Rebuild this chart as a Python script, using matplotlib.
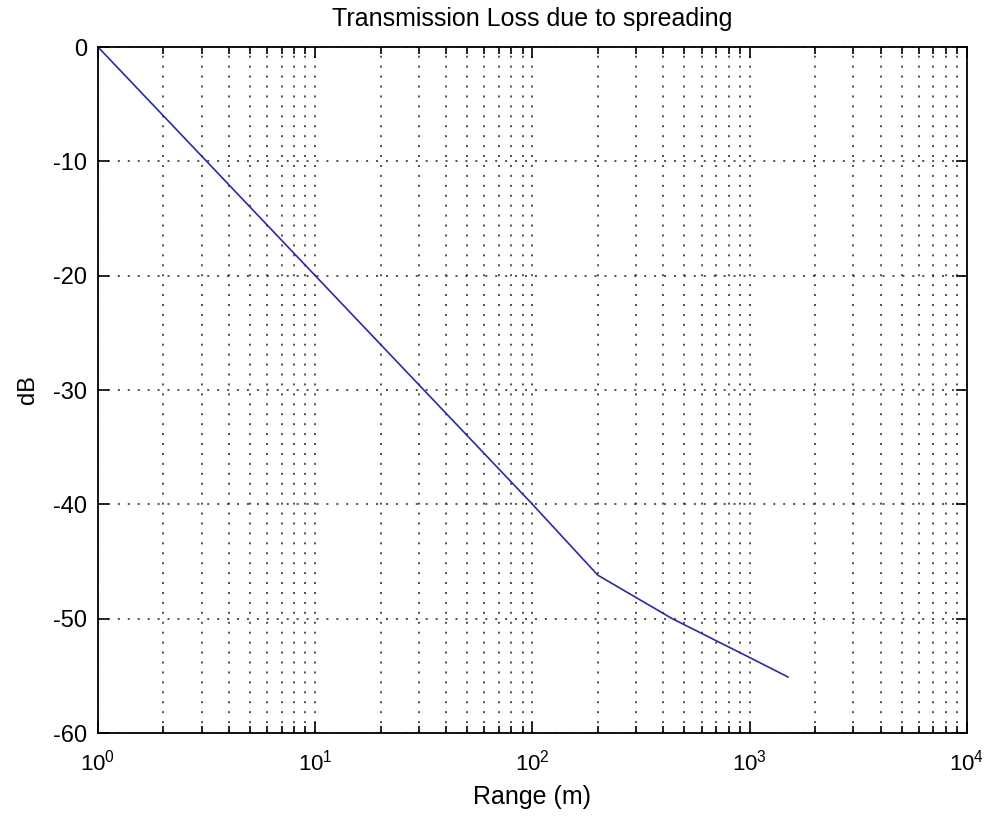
#!/usr/bin/env python3
"""Transmission loss due to spreading (MATLAB-style log plot)."""

import matplotlib
matplotlib.use('Agg')
import matplotlib.pyplot as plt
from matplotlib.ticker import LogLocator, NullFormatter

# Values
range_m = [1, 10, 100, 200, 440, 1000, 1500]
loss_db = [0, -20, -40, -46.2, -50.0, -53.4, -55.1]

plt.rcParams['font.family'] = ['Liberation Sans', 'DejaVu Sans']
plt.rcParams['mathtext.fontset'] = 'custom'
plt.rcParams['mathtext.rm'] = 'Liberation Sans'
plt.rcParams['axes.unicode_minus'] = False

fig = plt.figure(figsize=(9.87, 8.16), dpi=100)
ax = fig.add_axes([0.0993, 0.1017, 0.8804, 0.8407])

ax.semilogx(range_m, loss_db, color='#2a2aaa', linewidth=1.2)

ax.set_xlim(1, 1e4)
ax.set_ylim(-60, 0)
ax.set_yticks(range(-60, 1, 10))
ax.xaxis.set_major_locator(LogLocator(base=10, numticks=10))
ax.xaxis.set_minor_locator(LogLocator(base=10, subs=range(2, 10), numticks=50))
ax.xaxis.set_minor_formatter(NullFormatter())

# sparse MATLAB-like dotted grid
dots = (0, (1.3, 5.2))
ax.grid(True, which='major', linestyle=dots, color='#222222', linewidth=1.1)
ax.grid(True, which='minor', axis='x', linestyle=dots, color='#222222', linewidth=1.1)

ax.tick_params(which='both', direction='in', top=True, right=True, width=1.2)
ax.tick_params(which='major', length=8)
ax.tick_params(which='minor', length=5)
ax.tick_params(axis='y', labelsize=17, pad=8)
ax.tick_params(axis='x', labelsize=16, pad=12)
for s in ax.spines.values():
    s.set_linewidth(1.3)

ax.set_title('Transmission Loss due to spreading', fontsize=18, pad=15)
ax.set_xlabel('Range (m)', fontsize=18, labelpad=7)
ax.set_ylabel('dB', fontsize=17, labelpad=10)

fig.savefig('out.png', dpi=100)
